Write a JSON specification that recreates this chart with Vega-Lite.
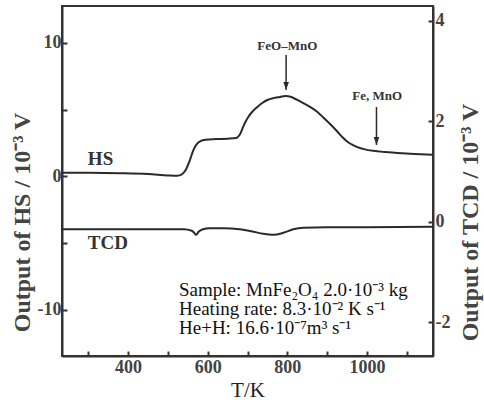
{
  "$schema": "https://vega.github.io/schema/vega-lite/v6.json",
  "width": 371,
  "height": 350,
  "autosize": {"type": "none"},
  "padding": {"left": 62, "top": 6, "right": 51, "bottom": 51},
  "background": "white",
  "config": {"view": {"stroke": "#333", "strokeWidth": 2}, "font": "Liberation Serif"},
  "datasets": {
    "hs": [
      {"T": 234, "v": 0.28}, {"T": 300, "v": 0.27}, {"T": 380, "v": 0.24}, {"T": 450, "v": 0.18},
      {"T": 500, "v": 0.08}, {"T": 523, "v": 0.05}, {"T": 535, "v": 0.15}, {"T": 545, "v": 0.5},
      {"T": 555, "v": 1.2}, {"T": 563, "v": 1.9}, {"T": 572, "v": 2.4}, {"T": 582, "v": 2.65},
      {"T": 595, "v": 2.75}, {"T": 620, "v": 2.8}, {"T": 650, "v": 2.83}, {"T": 672, "v": 2.88},
      {"T": 680, "v": 3.1}, {"T": 689, "v": 3.71}, {"T": 695, "v": 4.1}, {"T": 702, "v": 4.46},
      {"T": 712, "v": 4.85}, {"T": 725, "v": 5.21}, {"T": 737, "v": 5.5}, {"T": 750, "v": 5.73},
      {"T": 765, "v": 5.87}, {"T": 782, "v": 5.96}, {"T": 795, "v": 6.03}, {"T": 810, "v": 5.95},
      {"T": 825, "v": 5.73}, {"T": 840, "v": 5.5}, {"T": 858, "v": 5.2}, {"T": 875, "v": 4.85},
      {"T": 891, "v": 4.4}, {"T": 910, "v": 3.85}, {"T": 926, "v": 3.35}, {"T": 940, "v": 2.9},
      {"T": 951, "v": 2.6}, {"T": 965, "v": 2.35}, {"T": 976, "v": 2.2}, {"T": 995, "v": 2.03},
      {"T": 1016, "v": 1.92}, {"T": 1045, "v": 1.83}, {"T": 1077, "v": 1.76}, {"T": 1120, "v": 1.68},
      {"T": 1165, "v": 1.62}
    ],
    "tcd": [
      {"T": 234, "v": -0.15}, {"T": 400, "v": -0.15}, {"T": 540, "v": -0.15}, {"T": 560, "v": -0.18},
      {"T": 566, "v": -0.22}, {"T": 571, "v": -0.26}, {"T": 577, "v": -0.2}, {"T": 588, "v": -0.15},
      {"T": 605, "v": -0.13}, {"T": 640, "v": -0.13}, {"T": 680, "v": -0.15}, {"T": 710, "v": -0.19},
      {"T": 740, "v": -0.24}, {"T": 765, "v": -0.26}, {"T": 790, "v": -0.22}, {"T": 815, "v": -0.15},
      {"T": 840, "v": -0.12}, {"T": 900, "v": -0.11}, {"T": 1000, "v": -0.11}, {"T": 1165, "v": -0.1}
    ],
    "hsLabel": [{"T": 299, "v": 0.86, "text": "HS"}],
    "tcdLabel": [{"T": 299, "v": -0.54, "text": "TCD"}],
    "ann": [
      {"T": 800, "v": 9.51, "text": "FeO–MnO"},
      {"T": 1026, "v": 5.73, "text": "Fe, MnO"}
    ],
    "arrows": [
      {"T": 797, "v": 9.1, "v2": 6.48},
      {"T": 1024, "v": 5.2, "v2": 2.36}
    ],
    "notes": [
      {"T": 528, "v": -8.95, "text": "Sample: MnFe₂O₄ 2.0·10⁻³ kg"},
      {"T": 528, "v": -10.37, "text": "Heating rate: 8.3·10⁻² K s⁻¹"},
      {"T": 528, "v": -11.8, "text": "He+H: 16.6·10⁻⁷m³ s⁻¹"}
    ]
  },
  "encoding": {
    "x": {
      "field": "T", "type": "quantitative",
      "scale": {"domain": [234, 1166], "nice": false, "zero": false},
      "axis": {
        "values": [300, 400, 500, 600, 700, 800, 900, 1000, 1100],
        "labelExpr": "datum.value % 200 === 0 ? datum.value + '' : ''",
        "tickSize": -5, "tickWidth": 2, "tickColor": "#333",
        "domainColor": "#333", "domainWidth": 2, "grid": false,
        "labelFont": "Liberation Serif", "labelFontWeight": "bold", "labelFontSize": 18,
        "labelColor": "#444", "labelPadding": 7, "labelFlush": false,
        "title": "T/K", "titleFont": "Liberation Serif", "titleFontSize": 21,
        "titleFontWeight": "normal", "titleColor": "#222", "titlePadding": 3
      }
    }
  },
  "layer": [
    {
      "encoding": {
        "y": {
          "field": "v", "type": "quantitative",
          "scale": {"domain": [-13.45, 12.77], "nice": false, "zero": false},
          "axis": {
            "orient": "left",
            "values": [-10, -5, 0, 5, 10],
            "labelExpr": "datum.value % 10 === 0 ? datum.value + '' : ''",
            "tickSize": -5, "tickWidth": 2, "tickColor": "#333",
            "domainColor": "#333", "domainWidth": 2, "grid": false,
            "labelFont": "Liberation Serif", "labelFontWeight": "bold", "labelFontSize": 18,
            "labelColor": "#444", "labelPadding": 6,
            "title": "Output of HS / 10⁻³ V", "titleFont": "Liberation Serif", "titleFontSize": 24,
            "titleFontWeight": "bold", "titleColor": "#444",
            "titleX": -40, "titleY": 216, "titleAngle": 270, "titleBaseline": "middle", "titleAlign": "center"
          }
        }
      },
      "layer": [
        {"data": {"name": "hs"}, "mark": {"type": "line", "color": "#2a2a2a", "strokeWidth": 2, "interpolate": "monotone"}},
        {"data": {"name": "hsLabel"}, "mark": {"type": "text", "align": "left", "baseline": "alphabetic", "font": "Liberation Serif", "fontWeight": "bold", "fontSize": 19, "color": "#333"}, "encoding": {"text": {"field": "text"}}},
        {"data": {"name": "ann"}, "mark": {"type": "text", "align": "center", "baseline": "alphabetic", "font": "Liberation Serif", "fontWeight": "bold", "fontSize": 13, "color": "#333"}, "encoding": {"text": {"field": "text"}}},
        {"data": {"name": "arrows"}, "mark": {"type": "rule", "color": "#2a2a2a", "strokeWidth": 1.5}, "encoding": {"y2": {"field": "v2"}}},
        {"data": {"name": "arrows"}, "mark": {"type": "point", "shape": "M-0.7,-2L0.7,-2L0,0Z", "filled": true, "color": "#2a2a2a", "size": 64, "opacity": 1}, "encoding": {"y": {"field": "v2", "type": "quantitative"}}},
        {"data": {"name": "notes"}, "mark": {"type": "text", "align": "left", "baseline": "alphabetic", "font": "Liberation Serif", "fontSize": 19, "color": "#111"}, "encoding": {"text": {"field": "text"}}}
      ]
    },
    {
      "encoding": {
        "y": {
          "field": "v", "type": "quantitative",
          "scale": {"domain": [-2.67, 4.29], "nice": false, "zero": false},
          "axis": {
            "orient": "right",
            "values": [-2, 0, 2, 4],
            "labelExpr": "datum.value + ''",
            "tickSize": -5, "tickWidth": 2, "tickColor": "#333",
            "domainColor": "#333", "domainWidth": 2, "grid": false,
            "labelFont": "Liberation Serif", "labelFontWeight": "bold", "labelFontSize": 18,
            "labelColor": "#444", "labelPadding": 7,
            "title": "Output of TCD / 10⁻³ V", "titleFont": "Liberation Serif", "titleFontSize": 24,
            "titleFontWeight": "bold", "titleColor": "#444",
            "titleX": 37, "titleY": 216, "titleAngle": 270, "titleBaseline": "middle", "titleAlign": "center"
          }
        }
      },
      "layer": [
        {"data": {"name": "tcd"}, "mark": {"type": "line", "color": "#2a2a2a", "strokeWidth": 2, "interpolate": "monotone"}},
        {"data": {"name": "tcdLabel"}, "mark": {"type": "text", "align": "left", "baseline": "alphabetic", "font": "Liberation Serif", "fontWeight": "bold", "fontSize": 19, "color": "#333"}, "encoding": {"text": {"field": "text"}}}
      ]
    }
  ],
  "resolve": {"scale": {"y": "independent"}}
}
